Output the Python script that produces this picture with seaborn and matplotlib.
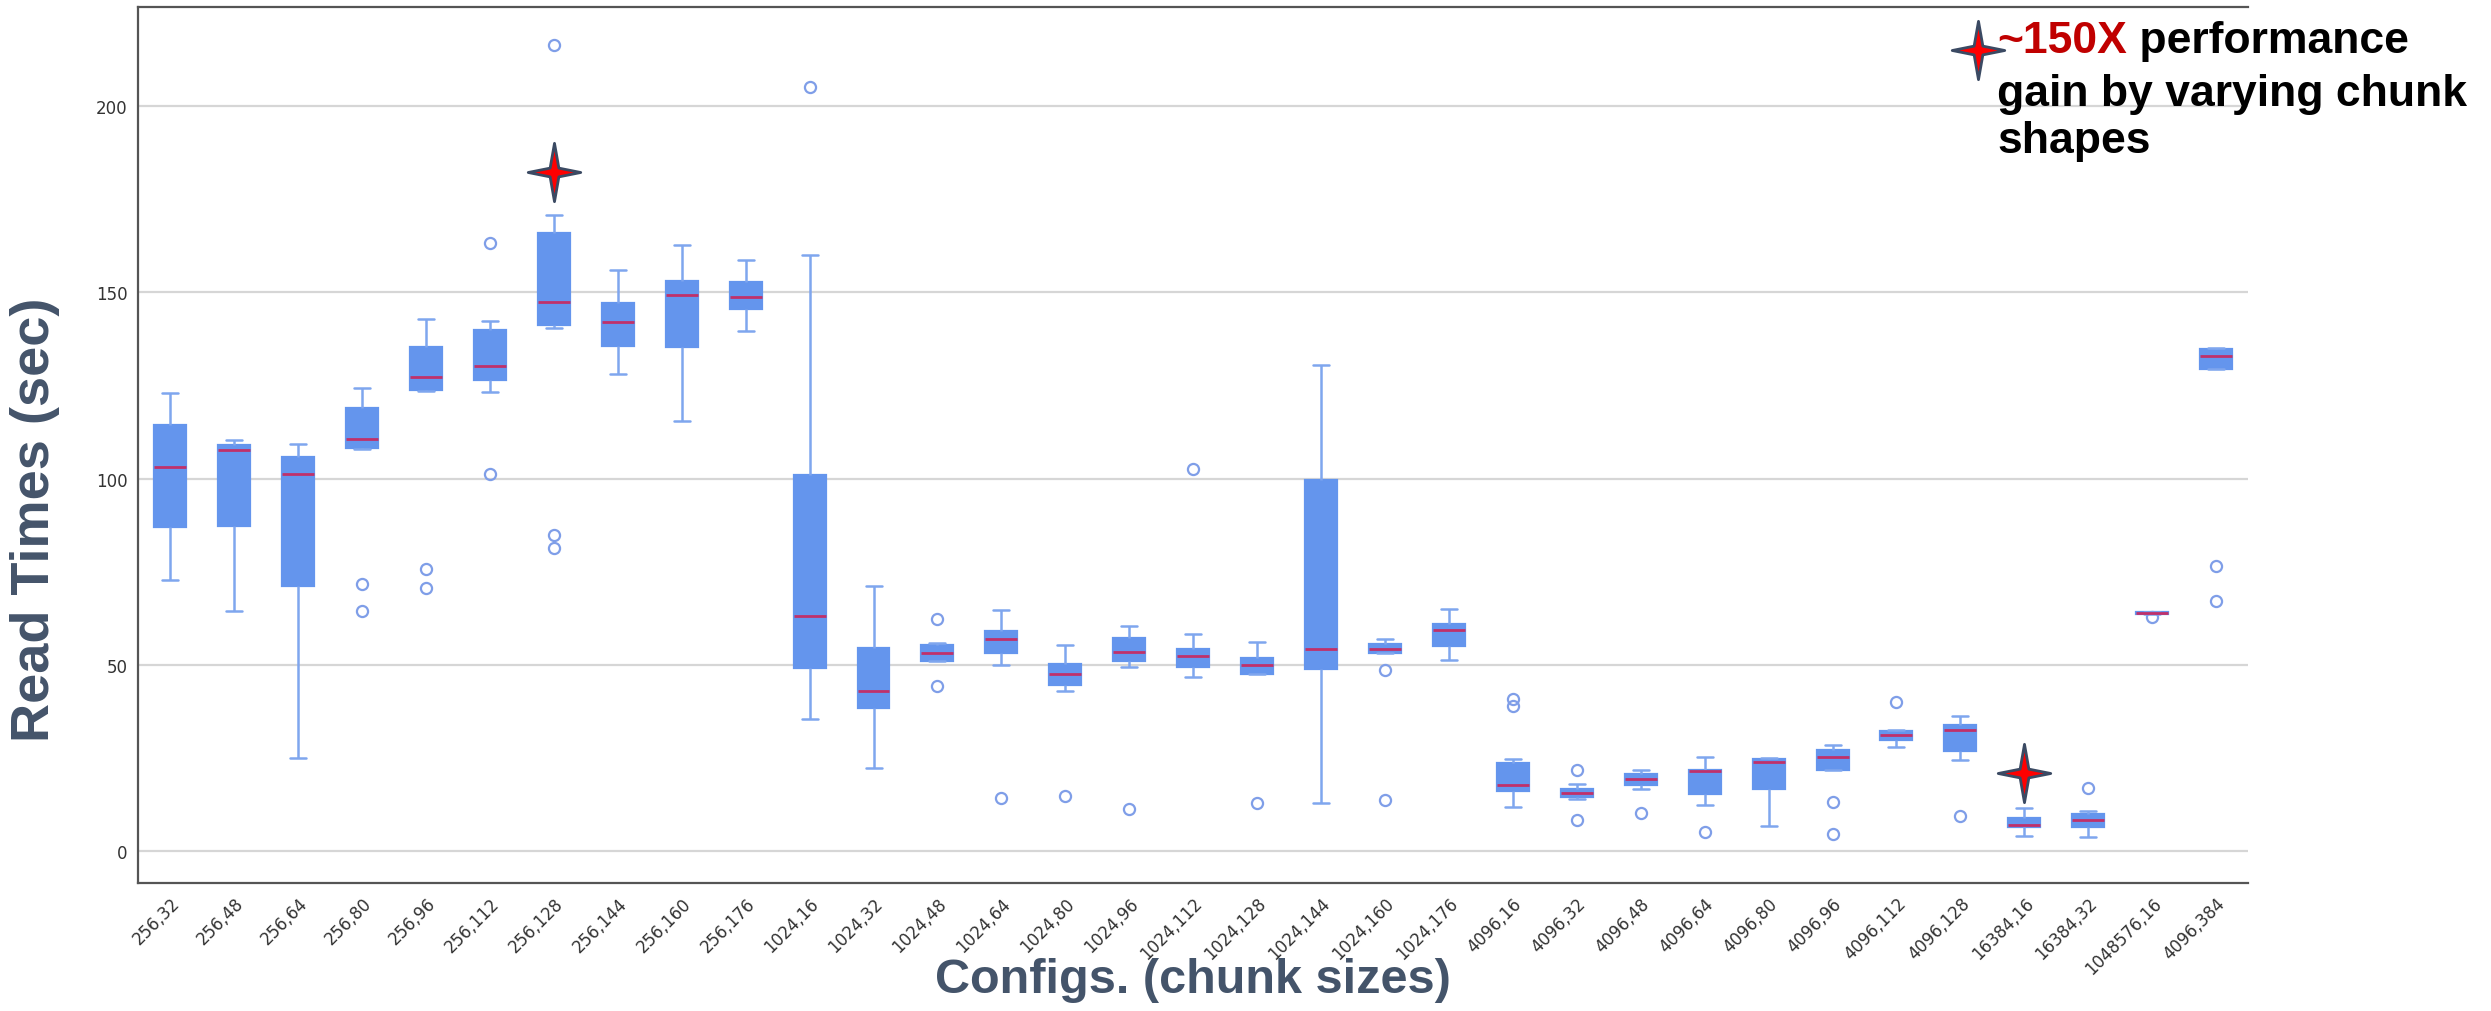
import numpy as np
import pandas as pd
import matplotlib
matplotlib.use("Agg")
import matplotlib.pyplot as plt
from matplotlib.path import Path
import seaborn as sns

# chunk-size configs and the read-time box statistics
configs = ["256,32", "256,48", "256,64", "256,80", "256,96", "256,112", "256,128",
           "256,144", "256,160", "256,176", "1024,16", "1024,32", "1024,48", "1024,64",
           "1024,80", "1024,96", "1024,112", "1024,128", "1024,144", "1024,160", "1024,176",
           "4096,16", "4096,32", "4096,48", "4096,64", "4096,80", "4096,96", "4096,112",
           "4096,128", "16384,16", "16384,32", "1048576,16", "4096,384"]

whis_lo = [72.7, 64.6, 25.1, 108.0, 123.5, 123.3, 140.5, 128.0, 115.6, 139.5,
           35.6, 22.4, 51.0, 50.1, 43.1, 49.6, 46.8, 47.7, 13.0, 53.2, 51.3,
           11.8, 14.0, 16.7, 12.5, 6.9, 21.9, 27.9, 24.4, 4.2, 3.8, 63.8, 129.4]
q1 = [86.9, 87.4, 71.1, 108.2, 123.9, 126.5, 141.1, 135.6, 135.4, 145.5,
      49.3, 38.6, 51.0, 53.2, 44.6, 51.0, 49.5, 47.7, 49.0, 53.2, 55.0,
      16.2, 14.5, 17.7, 15.4, 16.7, 21.9, 29.8, 27.0, 6.5, 6.5, 63.8, 129.4]
median = [103.0, 107.6, 101.2, 110.7, 127.3, 130.2, 147.5, 142.0, 149.4, 148.6,
          63.2, 43.1, 53.2, 56.9, 47.5, 53.5, 52.5, 49.9, 54.4, 54.2, 59.5,
          17.7, 15.6, 19.5, 21.7, 24.1, 25.4, 31.3, 32.5, 7.1, 8.5, 64.0, 133.0]
q3 = [114.5, 109.1, 105.9, 119.0, 135.4, 140.0, 166.0, 147.2, 153.0, 152.8,
      100.9, 54.5, 55.3, 59.2, 50.2, 57.2, 54.2, 52.0, 99.6, 55.7, 61.1,
      23.8, 16.7, 20.9, 21.9, 24.8, 27.2, 32.2, 34.0, 9.1, 10.0, 64.2, 134.8]
whis_hi = [123.0, 110.4, 109.4, 124.3, 142.7, 142.3, 170.7, 155.9, 162.8, 158.6,
           159.9, 71.1, 55.9, 64.8, 55.4, 60.5, 58.4, 56.2, 130.5, 56.9, 65.1,
           24.9, 18.2, 21.9, 25.3, 25.0, 28.6, 32.7, 36.2, 11.6, 10.9, 64.2, 135.0]
outliers = [[], [], [], [71.8, 64.5], [75.8, 70.6], [163.1, 101.3], [216.4, 84.9, 81.3],
            [], [], [], [205.1], [], [62.4, 44.3], [14.2], [14.8], [11.3], [102.5], [13.0],
            [], [48.7, 13.7], [], [41.0, 38.9], [21.9, 8.5], [10.4], [5.3], [],
            [13.2, 4.7], [40.0], [9.6], [], [17.1], [62.8], [76.6, 67.3]]

# highlighted configs (stars)
star_configs = ["256,128", "16384,16"]
star_values = [182.2, 21.0]

# build a small sample per config whose quartiles/whiskers reproduce the stats
m = 10
rows = []
for i, cfg in enumerate(configs):
    low = sorted(v for v in outliers[i] if v < q1[i])
    high = sorted(v for v in outliers[i] if v > q3[i])
    a, d = len(low) + 1, len(high) + 1
    sample = (low + [whis_lo[i]] + [q1[i]] * (m - a) + [median[i]]
              + [q3[i]] * (m - d) + [whis_hi[i]] + high)
    rows += [(cfg, v) for v in sample]
df = pd.DataFrame(rows, columns=["config", "value"])

sns.set_style("white")
plt.rcParams["font.family"] = ["DejaVu Sans"]

blue = "#6495ED"
fig = plt.figure(figsize=(24.91, 10.12), dpi=100)
ax = fig.add_axes([0.0555, 0.126, 0.847, 0.866])

sns.boxplot(data=df, x="config", y="value", order=configs, ax=ax,
            color=blue, saturation=1, width=0.5, whis=1.5, linewidth=1.6,
            boxprops=dict(facecolor=blue, edgecolor=blue),
            whiskerprops=dict(color="#7fa6ee", linewidth=1.8),
            capprops=dict(color="#7fa6ee", linewidth=1.8),
            medianprops=dict(color="#c0306a", linewidth=2),
            flierprops=dict(marker="o", markerfacecolor="none",
                            markeredgecolor="#7f9ee8", markersize=8,
                            markeredgewidth=1.6))

# four-point star marker
star = Path([(0, 1), (0.15, 0.15), (0.9, 0), (0.15, -0.15), (0, -1),
             (-0.15, -0.15), (-0.9, 0), (-0.15, 0.15), (0, 1)],
            [Path.MOVETO] + [Path.LINETO] * 7 + [Path.CLOSEPOLY])
star_style = dict(marker=star, markersize=42, color="red",
                  markeredgecolor="#3b4a63", markeredgewidth=2, zorder=5)
for cfg, val in zip(star_configs, star_values):
    ax.plot(configs.index(cfg), val, **star_style)

ax.set_xlim(-0.5, len(configs) - 0.5)
ax.set_ylim(-8.6, 226.5)
ax.set_yticks([0, 50, 100, 150, 200])
ax.yaxis.grid(True, color="#d6d6d6", linewidth=1.6)
ax.set_axisbelow(True)
ax.tick_params(axis="both", labelsize=12, colors="#333333", length=4, width=1)
plt.setp(ax.get_xticklabels(), rotation=45, ha="right", rotation_mode="anchor")

for side in ["left", "bottom", "top"]:
    ax.spines[side].set_color("#555555")
    ax.spines[side].set_linewidth(1.6)
ax.spines["right"].set_visible(False)

label_font = ["Liberation Sans", "DejaVu Sans"]
ax.set_xlabel("Configs. (chunk sizes)", fontsize=35, fontweight="bold",
              color="#44546A", family=label_font, va="center")
ax.xaxis.set_label_coords(0.5, -0.11)
ax.set_ylabel("Read Times (sec)", fontsize=39, fontweight="bold",
              color="#44546A", family=label_font, va="center")
ax.yaxis.set_label_coords(-0.049, 0.416)

# annotation at top right
ax.plot(0.872, 0.951, transform=ax.transAxes, clip_on=False, **star_style)
t1 = ax.text(0.881, 0.962, "~150X", transform=ax.transAxes, fontsize=32,
             fontweight="bold", color="#C00000", family=label_font, va="center")
ax.annotate(" performance", xy=(1, 0), xycoords=t1, va="bottom", fontsize=32,
            fontweight="bold", color="black", family=label_font)
ax.text(0.881, 0.925, "gain by varying chunk\nshapes", transform=ax.transAxes,
        fontsize=32, fontweight="bold", color="black", family=label_font,
        va="top", linespacing=1.2)

fig.savefig("out.png", dpi=100)
